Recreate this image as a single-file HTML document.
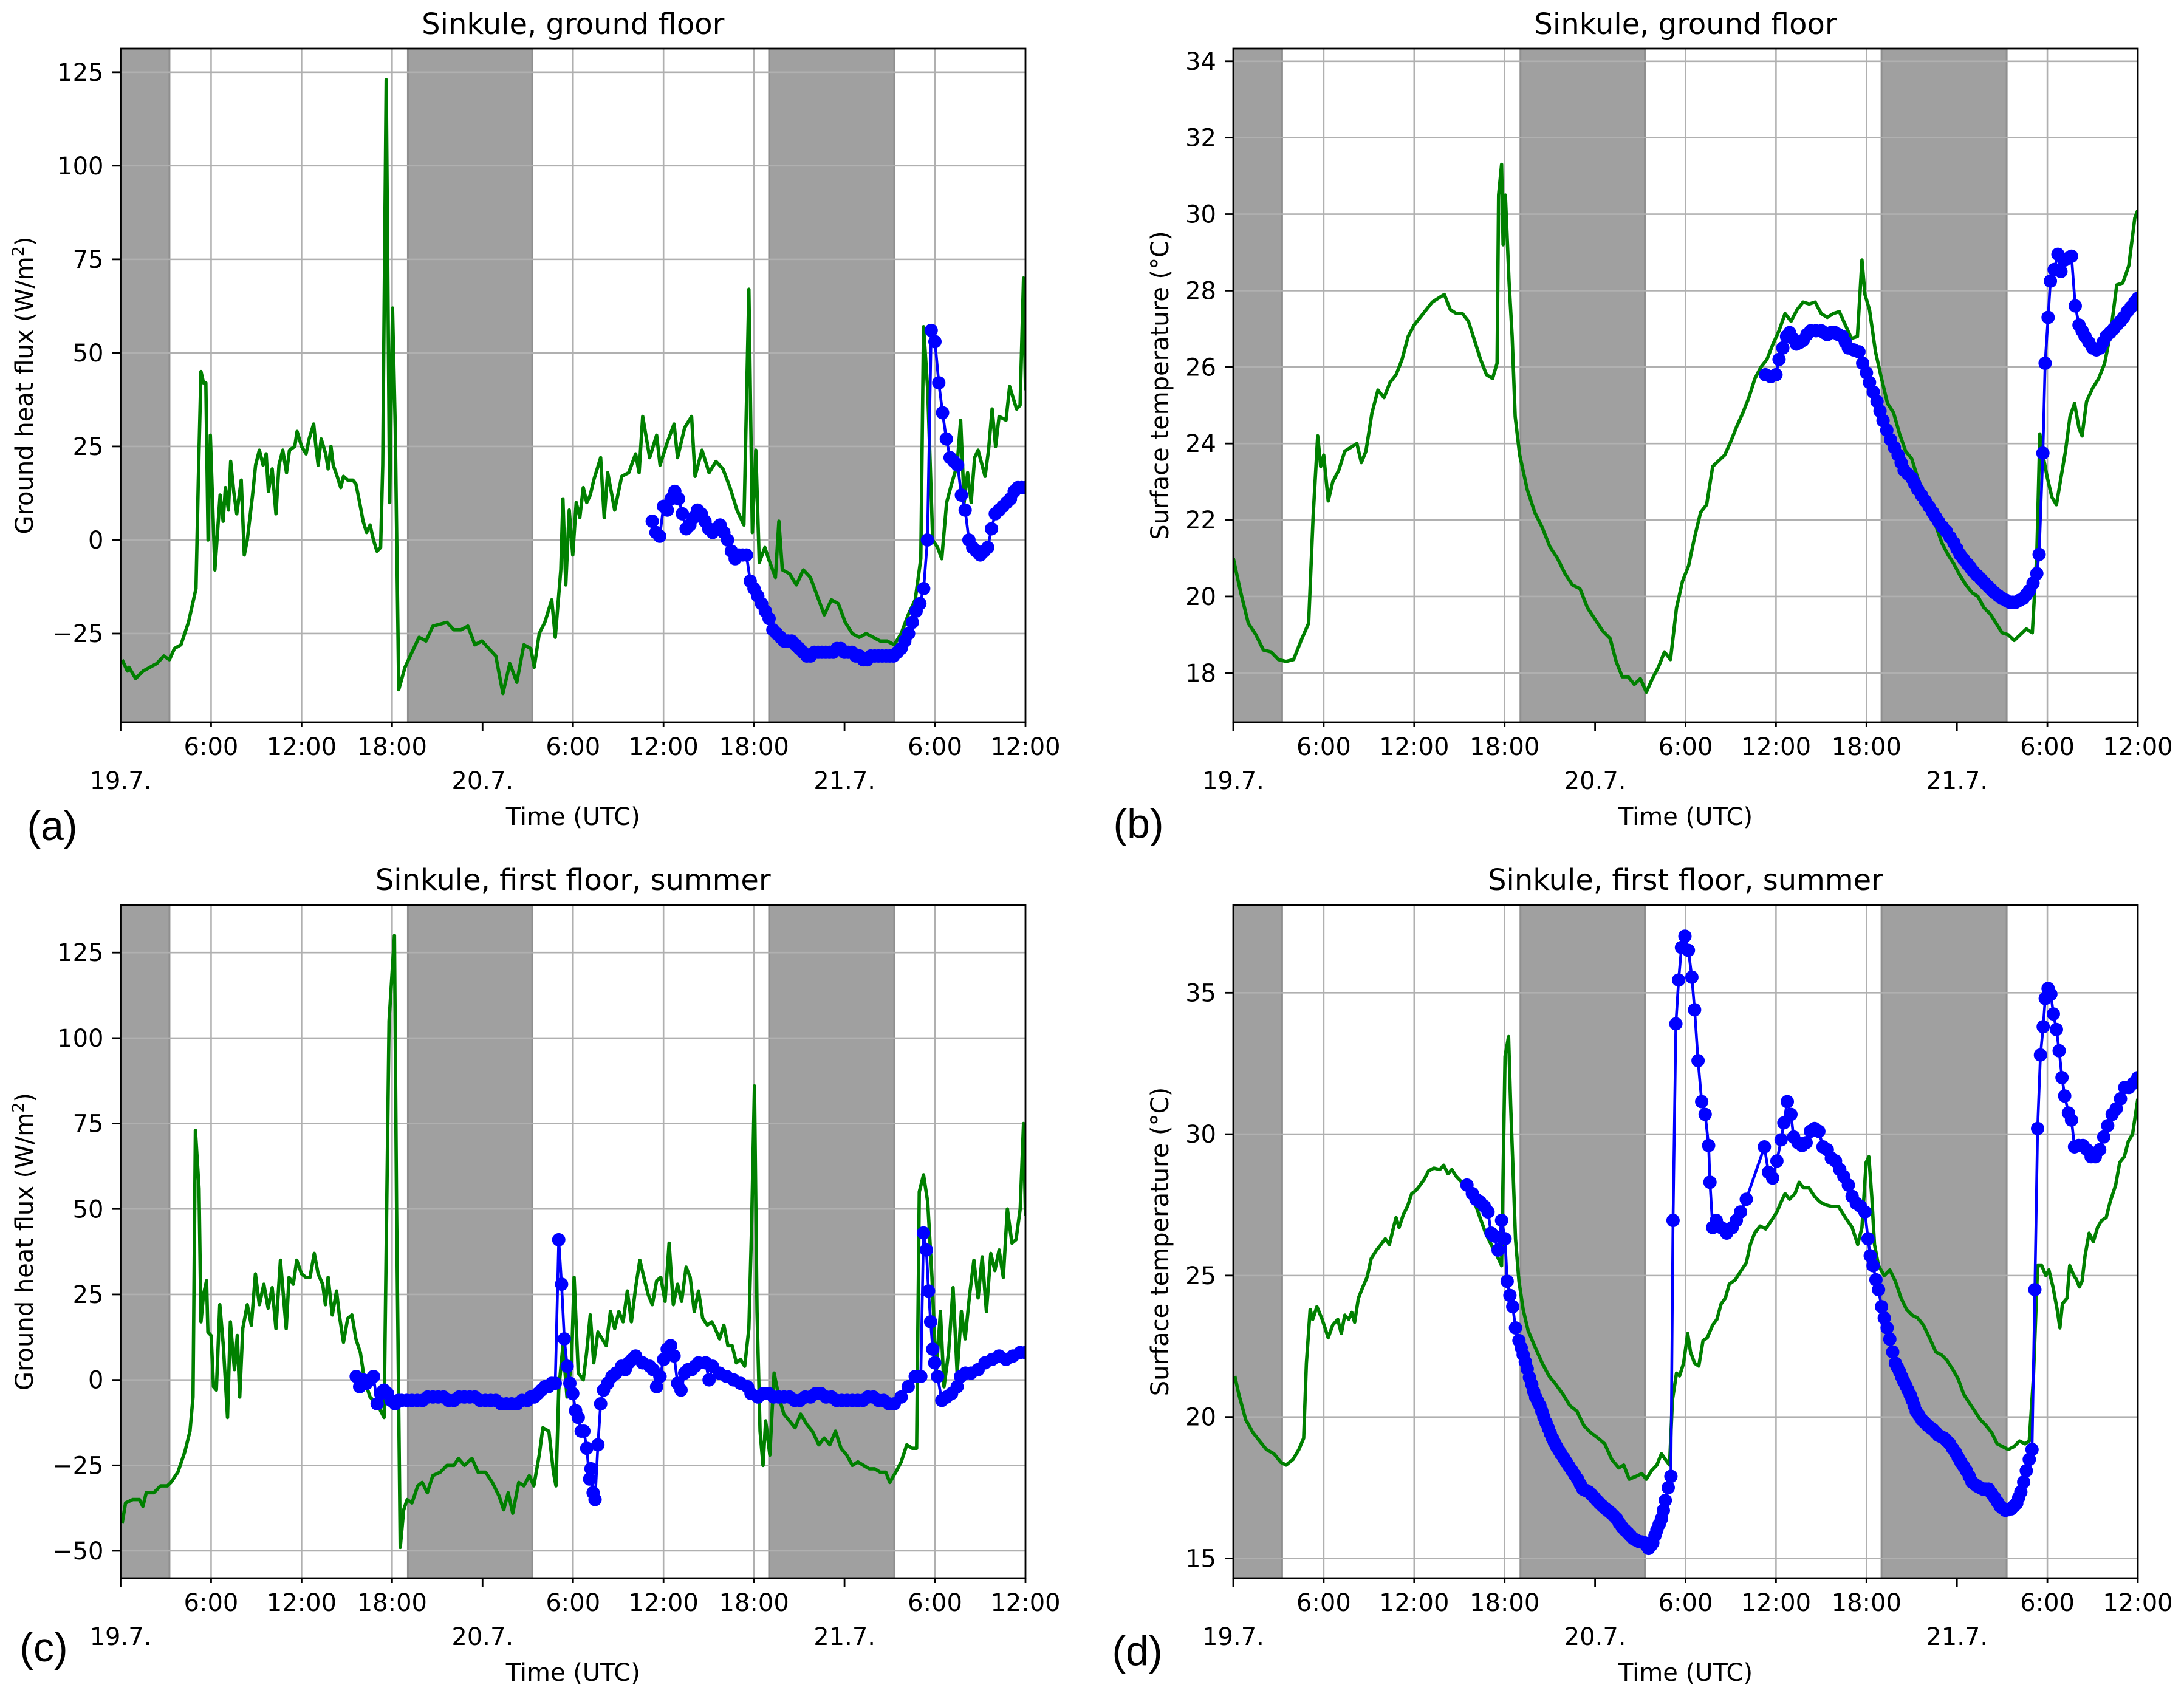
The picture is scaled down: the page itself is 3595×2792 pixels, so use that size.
<!DOCTYPE html>
<html><head><meta charset="utf-8"><title>Sinkule ground heat flux and surface temperature</title>
<style>
html,body{margin:0;padding:0;background:#fff;}
svg{display:block;font-family:"DejaVu Sans","Liberation Sans",sans-serif;}
</style></head>
<body>
<svg id="fig" xmlns="http://www.w3.org/2000/svg" width="3595" height="2792" viewBox="0 0 3595 2792">
<rect x="0" y="0" width="3595" height="2792" fill="#fff"/>
</svg>
<script>
// ---------- data ----------
const nightStart = [0, 19.05, 43.0];
const nightEnd = [3.24, 27.3, 51.3];
const xTickHours = [0,6,12,18,24,30,36,42,48,54,60];
const xTickLabels = ["","6:00","12:00","18:00","","6:00","12:00","18:00","","6:00","12:00"];
const dateHours = [0,24,48];
const dateLabels = ["19.7.","20.7.","21.7."];
const fluxTicksA = [-25,0,25,50,75,100,125];
const fluxTicksC = [-50,-25,0,25,50,75,100,125];
const tempTicksB = [18,20,22,24,26,28,30,32,34];
const tempTicksD = [15,20,25,30,35];

const aGreen = [[0.1,-32],[0.45,-35],[0.55,-34],[1.0,-37],[1.5,-35],[1.95,-34],[2.4,-33],[2.87,-31],[3.24,-32],[3.57,-29],[4.0,-28],[4.5,-22],[5.0,-13],[5.15,15],[5.33,45],[5.5,42],[5.65,42],[5.8,0],[5.95,28],[6.25,-8],[6.6,12],[6.8,5],[6.95,14],[7.15,8],[7.3,21],[7.5,13],[7.7,7],[8.0,16],[8.2,-4],[8.4,0],[8.75,12],[8.95,20],[9.2,24],[9.45,20],[9.65,23],[9.8,13],[10.05,19],[10.3,7],[10.5,20],[10.75,24],[11.0,18],[11.2,24],[11.55,25],[11.7,29],[12.0,25],[12.3,23],[12.5,27],[12.8,31],[12.95,25],[13.1,20],[13.3,27],[13.6,23],[13.76,19],[13.95,25],[14.1,20],[14.36,17],[14.6,14],[14.78,17],[15.06,16],[15.4,16],[15.6,15],[15.85,10],[16.08,5],[16.31,2],[16.54,4],[16.77,0],[17.0,-3],[17.24,-2],[17.38,20],[17.61,123],[17.84,10],[18.03,62],[18.21,30],[18.44,-40],[18.86,-34],[19.32,-30],[19.79,-26],[20.25,-27],[20.71,-23],[21.64,-22],[22.1,-24],[22.57,-24],[23.03,-23],[23.49,-28],[23.96,-27],[24.42,-29],[24.88,-31],[25.35,-41],[25.81,-33],[26.27,-38],[26.74,-28],[27.2,-29],[27.43,-34],[27.76,-25],[28.13,-22],[28.59,-16],[28.82,-26],[29.19,-8],[29.33,11],[29.52,-12],[29.75,8],[29.98,-4],[30.21,10],[30.45,6],[30.68,14],[30.91,10],[31.14,12],[31.37,16],[31.83,22],[32.07,6],[32.3,18],[32.76,8],[33.23,17],[33.69,18],[34.15,23],[34.38,18],[34.62,33],[35.08,22],[35.54,28],[35.77,20],[36.24,26],[36.7,31],[36.93,22],[37.4,30],[37.86,33],[38.09,17],[38.55,24],[39.02,18],[39.48,21],[39.94,19],[40.41,14],[40.87,8],[41.33,4],[41.66,67],[41.89,2],[42.12,24],[42.35,-6],[42.72,-2],[42.96,-5],[43.42,-10],[43.65,5],[43.88,-8],[44.35,-9],[44.81,-12],[45.27,-8],[45.74,-10],[46.2,-15],[46.66,-20],[47.13,-16],[47.59,-17],[48.05,-22],[48.52,-25],[48.98,-26],[49.44,-25],[49.91,-26],[50.37,-27],[50.83,-27],[51.3,-28],[51.76,-25],[52.22,-20],[52.69,-16],[53.06,-5],[53.24,57],[53.52,40],[53.85,0],[54.17,-2],[54.45,-5],[54.77,10],[55.1,15],[55.47,20],[55.7,32],[55.93,10],[56.16,18],[56.4,10],[56.63,22],[56.86,24],[57.32,17],[57.55,24],[57.79,35],[58.02,25],[58.25,33],[58.71,32],[58.95,41],[59.18,38],[59.41,35],[59.64,36],[59.87,70],[60,40]];

const aBlueStart = 35.25;
const aBlueStep = 0.25;
const aBlueValues = [5,2,1,9,8,11,13,11,7,3,4,6,8,7,5,3,2,3,4,2,0,-3,-5,-4,-4,-4,-11,-13,-15,-17,-19,-21,-24,-25,-26,-27,-27,-27,-28,-29,-30,-31,-31,-30,-30,-30,-30,-30,-30,-29,-29,-30,-30,-30,-31,-31,-32,-32,-31,-31,-31,-31,-31,-31,-31,-30,-29,-27,-25,-22,-19,-17,-13,0,56,53,42,34,27,22,21,20,12,8,0,-2,-3,-4,-3,-2,3,7,8,9,10,11,13,14,14,14];

const bGreen = [[0,21.0],[0.5,20.1],[1,19.3],[1.5,19.0],[2,18.6],[2.5,18.55],[3,18.35],[3.5,18.3],[4,18.35],[4.5,18.85],[5,19.3],[5.3,22.1],[5.6,24.2],[5.8,23.4],[6,23.7],[6.3,22.5],[6.6,23.0],[7,23.3],[7.4,23.8],[7.8,23.9],[8.2,24.0],[8.5,23.5],[8.8,23.8],[9.2,24.8],[9.6,25.4],[10,25.2],[10.4,25.6],[10.8,25.8],[11.2,26.2],[11.6,26.8],[12,27.1],[12.4,27.3],[12.8,27.5],[13.2,27.7],[13.6,27.8],[14,27.9],[14.4,27.5],[14.8,27.4],[15.2,27.4],[15.6,27.2],[16,26.7],[16.4,26.2],[16.8,25.8],[17.2,25.7],[17.5,26.1],[17.6,30.5],[17.8,31.3],[17.9,29.2],[18.05,30.5],[18.3,28.2],[18.5,26.8],[18.7,24.7],[19,23.7],[19.5,22.8],[20,22.2],[20.5,21.8],[21,21.3],[21.5,21.0],[22,20.6],[22.5,20.3],[23,20.2],[23.5,19.7],[24,19.4],[24.5,19.1],[25,18.9],[25.4,18.3],[25.8,17.9],[26.2,17.9],[26.6,17.7],[27,17.85],[27.4,17.5],[27.8,17.85],[28.2,18.15],[28.6,18.55],[29,18.35],[29.4,19.7],[29.8,20.4],[30.2,20.8],[30.6,21.55],[31,22.2],[31.4,22.4],[31.8,23.4],[32.2,23.55],[32.6,23.7],[33,24.05],[33.4,24.45],[33.8,24.8],[34.2,25.2],[34.6,25.7],[35,26.0],[35.4,26.2],[35.8,26.6],[36.2,26.95],[36.6,27.4],[37,27.2],[37.4,27.5],[37.8,27.7],[38.2,27.65],[38.6,27.7],[39,27.4],[39.4,27.3],[39.8,27.4],[40.2,27.45],[40.6,27.1],[41,26.75],[41.4,26.8],[41.7,28.8],[41.9,27.9],[42.2,27.5],[42.6,26.4],[43,25.7],[43.4,25.05],[43.8,24.8],[44.2,24.25],[44.6,23.8],[45,23.6],[45.4,23.1],[45.8,22.7],[46.2,22.3],[46.6,21.85],[47,21.4],[47.4,21.1],[47.8,20.85],[48.2,20.55],[48.6,20.3],[49,20.1],[49.4,20.0],[49.8,19.7],[50.2,19.55],[50.6,19.3],[51,19.05],[51.4,19.0],[51.8,18.85],[52.2,19.0],[52.6,19.15],[53,19.05],[53.3,21.1],[53.5,24.25],[53.7,23.7],[54,23.1],[54.3,22.6],[54.6,22.4],[54.9,23.1],[55.2,23.8],[55.5,24.7],[55.8,25.05],[56.1,24.4],[56.3,24.2],[56.6,25.1],[57,25.45],[57.4,25.7],[57.8,26.1],[58.2,26.9],[58.6,28.15],[59,28.2],[59.4,28.65],[59.8,29.9],[60,30.1]];

const bBlue = [[35.3,25.8],[35.65,25.75],[36.0,25.8],[36.2,26.2],[36.45,26.5],[36.7,26.8],[36.9,26.9],[37.1,26.75],[37.35,26.6],[37.6,26.65],[37.8,26.7],[38.05,26.85],[38.3,26.95],[38.65,26.95],[39.0,26.95],[39.2,26.9],[39.4,26.85],[39.65,26.9],[39.9,26.9],[40.15,26.85],[40.4,26.8],[40.6,26.65],[40.8,26.5],[41.15,26.45],[41.5,26.4],[41.75,26.1],[42.0,25.85],[42.2,25.6],[42.45,25.35],[42.7,25.1],[42.9,24.85],[43.1,24.6],[43.35,24.35],[43.6,24.1],[43.85,23.9],[44.1,23.7],[44.3,23.5],[44.5,23.3],[44.75,23.2],[45.0,23.1],[45.2,22.95],[45.4,22.8],[45.65,22.65],[45.9,22.5],[46.15,22.35],[46.4,22.2],[46.6,22.07],[46.8,21.95],[47.05,21.82],[47.3,21.7],[47.55,21.55],[47.8,21.4],[48.0,21.25],[48.2,21.1],[48.45,20.97],[48.7,20.85],[48.9,20.75],[49.1,20.65],[49.35,20.55],[49.6,20.45],[49.85,20.35],[50.1,20.25],[50.3,20.17],[50.5,20.1],[50.75,20.02],[51.0,19.95],[51.25,19.9],[51.5,19.85],[51.7,19.85],[51.9,19.85],[52.15,19.9],[52.4,19.95],[52.6,20.05],[52.8,20.15],[53.05,20.35],[53.3,20.6],[53.45,21.1],[53.7,23.75],[53.85,26.1],[54.05,27.3],[54.2,28.25],[54.45,28.55],[54.7,28.95],[54.9,28.5],[55.15,28.8],[55.4,28.85],[55.6,28.9],[55.85,27.6],[56.1,27.1],[56.3,26.95],[56.5,26.8],[56.75,26.65],[57.0,26.5],[57.25,26.45],[57.5,26.5],[57.7,26.65],[57.9,26.8],[58.15,26.9],[58.4,27.0],[58.6,27.1],[58.85,27.2],[59.05,27.3],[59.3,27.45],[59.55,27.57],[59.8,27.7],[60,27.8]];

const cGreen = [[0.1,-42],[0.33,-36],[0.8,-35],[1.25,-35],[1.48,-37],[1.7,-33],[2.2,-33],[2.65,-31],[3.1,-31],[3.34,-30],[3.8,-27],[4.26,-21],[4.6,-15],[4.8,-5],[4.96,73],[5.2,56],[5.33,17],[5.5,25],[5.7,29],[5.79,14],[6.0,13],[6.16,-2],[6.35,-3],[6.58,22],[6.81,10],[7.09,-11],[7.28,17],[7.55,3],[7.74,13],[7.9,-5],[8.1,15],[8.4,22],[8.67,16],[8.94,31],[9.2,22],[9.5,28],[9.78,21],[10.05,27],[10.3,15],[10.6,35],[10.98,15],[11.17,30],[11.45,28],[11.68,35],[12.0,31],[12.28,30],[12.56,30],[12.84,37],[13.1,31],[13.4,28],[13.58,22],[13.76,30],[14.04,19],[14.32,26],[14.5,19],[14.78,11],[15.06,18],[15.34,19],[15.6,12],[15.9,8],[16.17,0],[16.54,-5],[17.0,-7],[17.47,-11],[17.8,105],[18.16,130],[18.3,50],[18.54,-49],[18.77,-38],[19.0,-35],[19.32,-36],[19.7,-31],[20.0,-30],[20.34,-33],[20.7,-28],[21.2,-27],[21.64,-25],[22.1,-25],[22.4,-23],[22.8,-25],[23.3,-23],[23.7,-27],[24.2,-27],[24.65,-30],[25.1,-34],[25.4,-38],[25.7,-33],[26.0,-39],[26.4,-30],[26.74,-31],[27.1,-28],[27.4,-31],[27.76,-22],[28.0,-14],[28.4,-15],[28.7,-27],[28.87,-31],[29.05,-3],[29.33,10],[29.6,-5],[29.9,5],[30.07,30],[30.35,2],[30.68,0],[30.9,8],[31.14,19],[31.37,5],[31.65,14],[31.93,12],[32.2,10],[32.48,20],[32.76,15],[33.04,20],[33.32,17],[33.6,26],[33.87,17],[34.15,27],[34.43,35],[34.7,30],[34.98,25],[35.26,22],[35.54,29],[35.82,30],[36.1,23],[36.37,40],[36.65,22],[36.93,28],[37.2,23],[37.5,33],[37.77,30],[38.04,20],[38.32,26],[38.6,18],[38.9,16],[39.2,17],[39.43,15],[39.71,12],[40.0,16],[40.27,10],[40.55,10],[40.83,5],[41.1,6],[41.38,4],[41.66,15],[41.84,45],[42.03,86],[42.2,20],[42.4,-15],[42.6,-25],[42.77,-12],[43.05,-22],[43.33,2],[43.65,-5],[43.98,-10],[44.35,-12],[44.72,-14],[45.09,-10],[45.5,-13],[45.87,-15],[46.3,-19],[46.66,-17],[47.03,-19],[47.4,-15],[47.77,-20],[48.15,-22],[48.52,-25],[48.89,-24],[49.26,-25],[49.63,-26],[50.0,-26],[50.37,-27],[50.74,-27],[51.0,-30],[51.4,-27],[51.76,-24],[52.13,-19],[52.5,-20],[52.78,-20],[52.96,55],[53.24,60],[53.52,52],[53.8,30],[54.08,2],[54.36,20],[54.6,-2],[54.9,8],[55.2,27],[55.47,2],[55.75,20],[56.0,12],[56.3,25],[56.58,35],[56.86,24],[57.13,36],[57.41,20],[57.7,37],[57.97,32],[58.25,38],[58.53,30],[58.8,50],[59.1,40],[59.37,41],[59.65,50],[59.87,75],[60,48]];

const cBlue = [[15.62,1],[15.85,-2],[16.08,0],[16.31,-1],[16.54,0],[16.77,1],[17.01,-7],[17.24,-4],[17.47,-3],[17.7,-4],[17.93,-6],[18.21,-7],[18.42,-6],[18.63,-6],[18.98,-6],[19.32,-6],[19.67,-6],[20.02,-6],[20.36,-5],[20.71,-5],[21.06,-5],[21.41,-5],[21.75,-6],[22.1,-6],[22.45,-5],[22.8,-5],[23.15,-5],[23.49,-5],[23.84,-6],[24.19,-6],[24.54,-6],[24.88,-6],[25.23,-7],[25.58,-7],[25.93,-7],[26.28,-7],[26.62,-6],[26.97,-6],[27.2,-5],[27.43,-5],[27.67,-4],[27.9,-3],[28.13,-2],[28.36,-2],[28.59,-1],[28.82,-1],[29.05,41],[29.24,28],[29.42,12],[29.61,4],[29.79,-1],[29.98,-4],[30.17,-9],[30.35,-11],[30.54,-15],[30.72,-15],[30.91,-20],[31.1,-29],[31.19,-26],[31.33,-33],[31.46,-35],[31.65,-19],[31.83,-7],[32.02,-3],[32.3,-1],[32.58,1],[32.85,2],[33.22,4],[33.46,3],[33.69,5],[33.92,6],[34.15,7],[34.61,5],[35.08,4],[35.31,3],[35.54,-2],[35.77,1],[36.01,6],[36.24,9],[36.47,10],[36.7,7],[36.93,-1],[37.16,-3],[37.4,2],[37.63,3],[37.86,3],[38.09,4],[38.32,5],[38.79,5],[39.02,0],[39.25,4],[39.71,2],[40.18,1],[40.64,0],[41.1,-1],[41.57,-2],[41.8,-4],[42.26,-5],[42.61,-4],[42.96,-4],[43.3,-5],[43.65,-5],[44.0,-5],[44.35,-5],[44.7,-6],[45.04,-6],[45.39,-5],[45.74,-5],[46.09,-4],[46.43,-4],[46.78,-5],[47.13,-5],[47.48,-6],[47.82,-6],[48.17,-6],[48.52,-6],[48.87,-6],[49.21,-6],[49.56,-5],[49.91,-5],[50.26,-6],[50.6,-6],[50.95,-7],[51.3,-7],[51.76,-5],[52.22,-2],[52.69,1],[53.06,1],[53.24,43],[53.43,38],[53.57,26],[53.71,17],[53.85,9],[53.98,5],[54.17,1],[54.45,-6],[54.77,-5],[55.1,-4],[55.47,-2],[55.7,1],[56.02,2],[56.39,2],[56.86,3],[57.32,5],[57.79,6],[58.25,7],[58.71,6],[59.18,7],[59.64,8],[60,8]];

const dGreen = [[0.1,21.45],[0.37,20.8],[0.83,19.9],[1.3,19.45],[1.75,19.15],[2.2,18.85],[2.7,18.7],[3.15,18.4],[3.5,18.3],[3.97,18.5],[4.35,18.85],[4.67,19.25],[4.85,21.9],[5.1,23.8],[5.27,23.45],[5.55,23.9],[5.9,23.45],[6.3,22.8],[6.6,23.25],[6.93,23.45],[7.17,22.95],[7.4,23.6],[7.67,23.45],[7.86,23.7],[8.05,23.35],[8.3,24.2],[8.6,24.6],[8.88,24.95],[9.15,25.6],[9.5,25.9],[9.8,26.1],[10.08,26.3],[10.36,26.1],[10.63,26.7],[10.8,27.05],[11.0,26.7],[11.28,27.15],[11.56,27.45],[11.84,27.9],[12.1,28.0],[12.4,28.2],[12.67,28.4],[12.95,28.7],[13.3,28.8],[13.7,28.75],[13.96,28.9],[14.24,28.6],[14.5,28.75],[14.8,28.5],[15.16,28.3],[15.6,28.0],[16.0,27.6],[16.37,27.05],[16.74,26.5],[17.1,26.1],[17.5,25.7],[17.8,25.35],[18.03,32.75],[18.26,33.45],[18.4,31.05],[18.54,29.0],[18.72,26.3],[18.95,24.8],[19.23,23.8],[19.56,23.05],[20.0,22.5],[20.5,21.9],[20.94,21.45],[21.4,21.15],[21.87,20.8],[22.33,20.4],[22.8,20.2],[23.25,19.7],[23.7,19.45],[24.2,19.25],[24.64,19.05],[25.1,18.5],[25.57,18.2],[25.9,18.3],[26.26,17.8],[26.72,17.9],[27.1,18.0],[27.4,17.8],[27.74,18.1],[28.1,18.3],[28.4,18.7],[28.66,18.5],[28.94,18.3],[29.13,20.6],[29.4,21.55],[29.6,21.45],[29.87,21.9],[30.14,22.95],[30.33,22.3],[30.6,21.9],[30.88,21.8],[31.16,22.7],[31.44,22.8],[31.8,23.25],[32.08,23.45],[32.36,24.0],[32.64,24.2],[32.9,24.7],[33.3,24.85],[33.66,25.15],[34.03,25.45],[34.3,26.1],[34.58,26.5],[34.95,26.75],[35.32,26.65],[35.7,26.95],[36.06,27.25],[36.34,27.6],[36.6,27.9],[36.9,27.7],[37.26,27.9],[37.54,28.3],[37.82,28.1],[38.19,28.1],[38.56,27.8],[38.93,27.6],[39.3,27.5],[39.67,27.45],[40.13,27.45],[40.6,27.05],[41.05,26.7],[41.42,26.1],[41.7,26.7],[41.98,29.0],[42.16,29.2],[42.35,27.8],[42.53,26.1],[42.8,25.35],[43.18,25.0],[43.55,25.2],[43.92,24.8],[44.3,24.2],[44.66,23.8],[45.03,23.6],[45.4,23.5],[45.77,23.25],[46.14,22.85],[46.6,22.3],[46.97,22.2],[47.34,22.0],[47.7,21.7],[48.08,21.35],[48.45,20.8],[48.82,20.5],[49.19,20.2],[49.56,19.9],[49.93,19.7],[50.3,19.45],[50.67,19.05],[51.04,18.95],[51.4,18.85],[51.78,18.95],[52.15,19.15],[52.52,19.05],[52.8,19.15],[53.07,21.35],[53.35,25.35],[53.63,25.35],[53.9,25.0],[54.1,25.2],[54.37,24.6],[54.65,23.8],[54.83,23.15],[55.0,24.0],[55.3,24.2],[55.48,25.35],[55.76,25.0],[55.94,24.85],[56.12,24.6],[56.3,24.8],[56.5,25.7],[56.77,26.5],[57.05,26.2],[57.33,26.7],[57.6,26.95],[57.9,27.05],[58.16,27.6],[58.53,28.2],[58.8,29.0],[59.1,29.2],[59.37,29.75],[59.65,30.0],[60,31.25]];

const dBlue = [[15.5,28.2],[15.86,27.9],[16.1,27.7],[16.37,27.6],[16.65,27.45],[16.9,27.25],[17.1,26.5],[17.3,26.4],[17.57,25.9],[17.8,26.95],[18.03,26.3],[18.17,24.8],[18.35,24.3],[18.54,23.9],[18.72,23.15],[18.95,22.7],[19.1,22.45],[19.23,22.2],[19.37,21.95],[19.5,21.7],[19.65,21.4],[19.8,21.15],[19.93,20.9],[20.06,20.7],[20.2,20.55],[20.34,20.4],[20.47,20.2],[20.6,20.0],[20.75,19.8],[20.9,19.6],[21.03,19.42],[21.17,19.25],[21.3,19.1],[21.45,18.95],[21.6,18.82],[21.73,18.7],[21.92,18.55],[22.1,18.4],[22.28,18.25],[22.47,18.1],[22.65,17.95],[22.84,17.8],[23.02,17.62],[23.2,17.45],[23.4,17.4],[23.58,17.35],[23.77,17.25],[23.95,17.15],[24.12,17.05],[24.3,16.95],[24.5,16.85],[24.7,16.75],[24.88,16.68],[25.06,16.6],[25.25,16.5],[25.43,16.4],[25.6,16.25],[25.8,16.1],[25.98,16.0],[26.17,15.9],[26.35,15.8],[26.54,15.7],[26.72,15.65],[26.9,15.6],[27.1,15.58],[27.28,15.55],[27.42,15.45],[27.55,15.35],[27.7,15.45],[27.83,15.55],[27.97,15.8],[28.1,16.0],[28.25,16.2],[28.4,16.4],[28.53,16.7],[28.66,17.05],[28.85,17.5],[29.03,17.9],[29.17,26.95],[29.36,33.9],[29.54,35.45],[29.73,36.6],[29.96,37.0],[30.19,36.5],[30.42,35.55],[30.6,34.4],[30.83,32.6],[31.07,31.15],[31.3,30.7],[31.53,29.6],[31.62,28.3],[31.8,26.7],[32.04,26.95],[32.36,26.7],[32.73,26.5],[33.1,26.7],[33.37,26.95],[33.65,27.25],[34.03,27.7],[35.23,29.55],[35.5,28.65],[35.78,28.45],[36.06,29.05],[36.34,29.8],[36.52,30.4],[36.75,31.15],[36.99,30.7],[37.17,29.9],[37.45,29.7],[37.73,29.6],[38.0,29.7],[38.28,30.1],[38.56,30.2],[38.84,30.1],[39.12,29.55],[39.4,29.45],[39.67,29.15],[39.95,29.05],[40.23,28.75],[40.5,28.5],[40.8,28.2],[41.05,27.8],[41.33,27.55],[41.6,27.45],[41.9,27.25],[42.1,26.3],[42.25,25.7],[42.44,25.35],[42.63,24.85],[42.8,24.5],[43.0,23.9],[43.18,23.5],[43.37,23.15],[43.55,22.75],[43.74,22.3],[43.92,21.9],[44.06,21.75],[44.2,21.6],[44.34,21.42],[44.48,21.25],[44.62,21.1],[44.75,20.95],[44.9,20.78],[45.03,20.6],[45.16,20.4],[45.3,20.2],[45.49,20.05],[45.68,19.9],[45.87,19.8],[46.05,19.7],[46.24,19.62],[46.42,19.55],[46.6,19.45],[46.78,19.35],[46.97,19.3],[47.15,19.25],[47.33,19.15],[47.52,19.05],[47.7,18.9],[47.9,18.75],[48.08,18.57],[48.26,18.4],[48.45,18.25],[48.63,18.1],[48.82,17.9],[49.0,17.7],[49.18,17.62],[49.37,17.55],[49.55,17.5],[49.74,17.45],[49.92,17.45],[50.1,17.45],[50.3,17.3],[50.5,17.15],[50.68,17.0],[50.86,16.85],[51.04,16.77],[51.22,16.7],[51.4,16.72],[51.6,16.75],[51.78,16.85],[51.97,16.95],[52.1,17.15],[52.24,17.35],[52.43,17.7],[52.6,18.1],[52.8,18.5],[52.98,18.85],[53.17,24.5],[53.35,30.2],[53.54,32.8],[53.72,33.8],[53.86,34.8],[54.05,35.15],[54.23,34.95],[54.4,34.25],[54.6,33.7],[54.78,32.95],[54.97,32.0],[55.15,31.35],[55.4,30.75],[55.6,30.5],[55.8,29.55],[56.07,29.6],[56.35,29.6],[56.63,29.45],[56.9,29.2],[57.18,29.2],[57.47,29.45],[57.74,29.9],[58.0,30.3],[58.3,30.7],[58.57,30.9],[58.85,31.25],[59.13,31.65],[59.4,31.65],[59.7,31.8],[60,32.0]];

// ---------- drawing ----------
const NS = "http://www.w3.org/2000/svg";
const svg = document.getElementById("fig");
function mk(tag, attrs, parent){
  const e = document.createElementNS(NS, tag);
  for (const k in attrs) e.setAttribute(k, attrs[k]);
  (parent||svg).appendChild(e);
  return e;
}

function drawPanel(p){
  const g = mk("g", {});
  
  
  const xs = h => p.L + (h/60)*(p.R-p.L);
  const ys = v => p.B - (v-p.ymin)/(p.ymax-p.ymin)*(p.B-p.T);
  const clipId = "clip-" + p.key;
  const cp = mk("clipPath", {id: clipId}, g);
  mk("rect", {x:p.L, y:p.T, width:p.R-p.L, height:p.B-p.T}, cp);

  for (let i=0;i<nightStart.length;i++){
    const r = mk("rect", {x:xs(nightStart[i]), y:p.T, width:xs(nightEnd[i])-xs(nightStart[i]), height:p.B-p.T, fill:"#a0a0a0", stroke:"#8f8f8f", "stroke-width":3, "clip-path":"url(#"+clipId+")"}, g);
    
    
  }
  for (let i=0;i<xTickHours.length;i++){
    const h = xTickHours[i];
    if (h % 24 === 0) continue;
    const l = mk("line", {x1:xs(h), x2:xs(h), y1:p.T, y2:p.B, stroke:"#b0b0b0", "stroke-width":2.6}, g);
    
    
  }
  for (const v of p.yticks){
    const l = mk("line", {x1:p.L, x2:p.R, y1:ys(v), y2:ys(v), stroke:"#b0b0b0", "stroke-width":2.6}, g);
    
    
  }
  const gp = mk("polyline", {points: p.green.map(d=>xs(d[0]).toFixed(1)+","+ys(d[1]).toFixed(1)).join(" "), fill:"none", stroke:"#008000", "stroke-width":5.6, "stroke-linejoin":"round", "clip-path":"url(#"+clipId+")"}, g);
  
  
  const bl = mk("polyline", {points: p.blue.map(d=>xs(d[0]).toFixed(1)+","+ys(d[1]).toFixed(1)).join(" "), fill:"none", stroke:"#0000ff", "stroke-width":4.6, "stroke-linejoin":"round", "clip-path":"url(#"+clipId+")"}, g);
  
  
  const mg = mk("g", {fill:"#0000ff", "clip-path":"url(#"+clipId+")"}, g);
  
  
  for (const d of p.blue){
    const c = mk("circle", {cx:xs(d[0]).toFixed(1), cy:ys(d[1]).toFixed(1), r:11}, mg);
    
    
  }
  const sp = mk("rect", {x:p.L, y:p.T, width:p.R-p.L, height:p.B-p.T, fill:"none", stroke:"#000", "stroke-width":2.8}, g);
  
  
  for (let i=0;i<xTickHours.length;i++){
    const h = xTickHours[i];
    const len = (h % 24 === 0) ? 15 : 8;
    const t = mk("line", {x1:xs(h), x2:xs(h), y1:p.B, y2:p.B+len, stroke:"#000", "stroke-width":2.8}, g);
    
    
    if (xTickLabels[i]){
      const tx = mk("text", {x:xs(h), y:p.B+54, "text-anchor":"middle", "font-size":40, fill:"#000"}, g);
      tx.textContent = xTickLabels[i];
      
      
    }
  }
  for (let i=0;i<dateHours.length;i++){
    const tx = mk("text", {x:xs(dateHours[i]), y:p.B+110, "text-anchor":"middle", "font-size":40, fill:"#000"}, g);
    tx.textContent = dateLabels[i];
    
    
  }
  for (const v of p.yticks){
    const t = mk("line", {x1:p.L-14, x2:p.L, y1:ys(v), y2:ys(v), stroke:"#000", "stroke-width":2.8}, g);
    
    
    const tx = mk("text", {x:p.L-28, y:ys(v)+14, "text-anchor":"end", "font-size":40, fill:"#000"}, g);
    tx.textContent = (v<0 ? "\u2212"+Math.abs(v) : String(v));
    
    
  }
  const ti = mk("text", {x:(p.L+p.R)/2, y:p.titleY, "text-anchor":"middle", "font-size":48, fill:"#000"}, g);
  ti.textContent = p.title;
  
  
  const xl = mk("text", {x:(p.L+p.R)/2, y:p.B+169, "text-anchor":"middle", "font-size":40, fill:"#000"}, g);
  xl.textContent = "Time (UTC)";
  
  
  const cy = (p.T+p.B)/2;
  const yl = mk("text", {x:p.ylabX, y:cy, "text-anchor":"middle", "font-size":40, fill:"#000", transform:"rotate(-90 "+p.ylabX+" "+cy+")"}, g);
  
  
  if (p.flux){
    yl.textContent = "Ground heat flux (W/m";
    const sup = mk("tspan", {"font-size":27, dy:-15}, yl);
    sup.textContent = "2";
    const close = mk("tspan", {dy:15}, yl);
    close.textContent = ")";
  } else {
    yl.textContent = "Surface temperature (\u00B0C)";
  }
  const lt = mk("text", {x:p.letX, y:p.letY+23, "text-anchor":"middle", "font-size":68, fill:"#000", "font-family":"Liberation Sans, sans-serif"}, g);
  lt.textContent = p.letter;
  
  
}

const aBlue = aBlueValues.map((v,i)=>[aBlueStart + i*aBlueStep, v]);

drawPanel({key:"a", L:198.5, R:1688, T:80, B:1189, ymin:-48.7, ymax:131.3, yticks:fluxTicksA, green:aGreen, blue:aBlue, flux:true, title:"Sinkule, ground floor", titleY:56, ylabX:54, letter:"(a)", letX:86, letY:1360});
drawPanel({key:"b", L:2030, R:3519, T:80, B:1189, ymin:16.71, ymax:34.33, yticks:tempTicksB, green:bGreen, blue:bBlue, flux:false, title:"Sinkule, ground floor", titleY:56, ylabX:1923, letter:"(b)", letX:1874, letY:1356});
drawPanel({key:"c", L:198.5, R:1688, T:1490, B:2598, ymin:-58.0, ymax:138.9, yticks:fluxTicksC, green:cGreen, blue:cBlue, flux:true, title:"Sinkule, first floor, summer", titleY:1465, ylabX:54, letter:"(c)", letX:72, letY:2712});
drawPanel({key:"d", L:2030, R:3519, T:1490, B:2598, ymin:14.30, ymax:38.10, yticks:tempTicksD, green:dGreen, blue:dBlue, flux:false, title:"Sinkule, first floor, summer", titleY:1465, ylabX:1923, letter:"(d)", letX:1872, letY:2718});
</script>
</body></html>
